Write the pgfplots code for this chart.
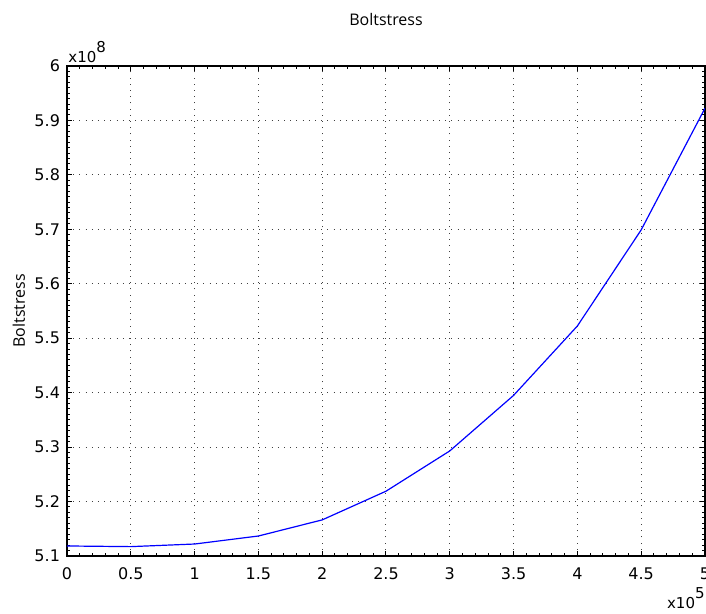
\documentclass[border=0pt]{standalone}
\usepackage{fontspec}
\setmainfont{DejaVu Sans}
\newfontfamily\osans{Open Sans}
\usepackage{pgfplots}
\pgfplotsset{compat=1.18}

\begin{document}
\begin{tikzpicture}
\path[use as bounding box] (-33.5pt,-29pt) rectangle (319.5pt,278pt);
\begin{axis}[
  at={(0pt,0pt)}, anchor=south west,
  scale only axis,
  width=319pt, height=245pt,
  xmin=0, xmax=5, ymin=5.1, ymax=6,
  xtick={0,0.5,...,5},
  ytick={5.1,5.2,5.3,5.4,5.5,5.6,5.7,5.8,5.9,6},
  minor x tick num=4,
  minor y tick num=9,
  tick align=inside,
  major tick length=2.5pt,
  minor tick length=1.3pt,
  scaled ticks=false,
  tick label style={font=\fontsize{8}{9}\selectfont},
  /pgf/number format/assume math mode=true,
  xticklabel style={yshift=-2.5pt},
  yticklabel style={xshift=0pt},
  grid=major,
  major grid style={draw=black!75, line width=0.5pt, dash pattern=on 0.5pt off 2.6pt},
  axis line style={black, line width=0.6pt},
  every tick/.style={black, line width=0.5pt},
]
\addplot[blue, line width=0.6pt, mark=none] coordinates {
  (0,5.1184) (0.5,5.1172) (1,5.1220) (1.5,5.1367) (2,5.1663) (2.5,5.2190)
  (3,5.2930) (3.5,5.3950) (4,5.5225) (4.5,5.6990) (5,5.9225)
};
\end{axis}
\node[anchor=base] at (159.5pt,265pt) {\osans\fontsize{8}{9}\selectfont Boltstress};
\node[anchor=base, rotate=90] at (-21pt,122.5pt) {\osans\fontsize{8}{9}\selectfont Boltstress};
\node[anchor=base west, inner sep=0pt] at (0.5pt,246.5pt) {\fontsize{7.5}{9}\selectfont x10\raisebox{5pt}{8}};
\node[anchor=base east, inner sep=0pt] at (319pt,-26.5pt) {\fontsize{7.5}{9}\selectfont x10\raisebox{5pt}{5}};
\end{tikzpicture}
\end{document}
